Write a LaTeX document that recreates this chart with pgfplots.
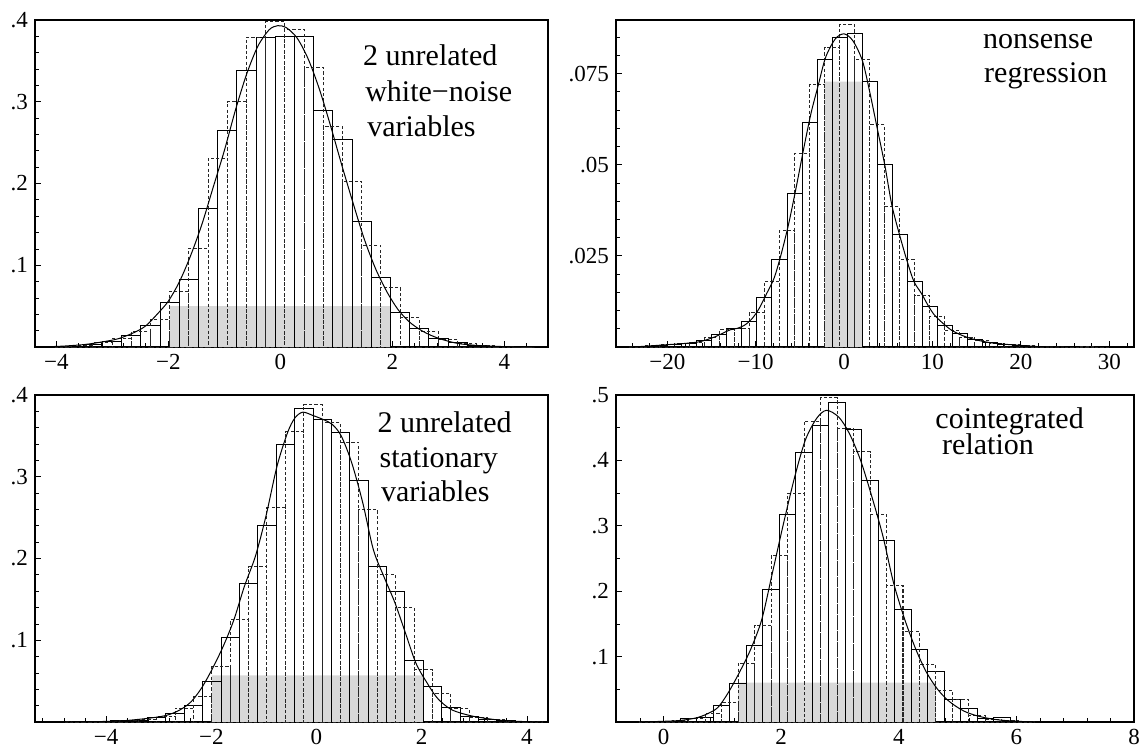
\documentclass[border=0pt]{standalone}
\usepackage{fontspec}
\setmainfont{Liberation Serif}
\usepackage{pgfplots}
\usepackage{pgfplotstable}
\pgfplotsset{compat=1.18}
\definecolor{critgrey}{RGB}{216,216,216}

% ---- top left: white noise ----
\pgfplotstableread{
x h
-4.031 0.001
-3.688 0.002
-3.345 0.005
-3.002 0.010
-2.660 0.019
-2.317 0.034
-1.974 0.068
-1.631 0.121
-1.288 0.231
-0.946 0.300
-0.603 0.379
-0.260 0.398
0.083 0.389
0.425 0.342
0.768 0.270
1.111 0.203
1.454 0.124
1.797 0.073
2.140 0.036
2.482 0.019
2.825 0.009
3.168 0.004
3.511 0.002
3.854 0.001
4.196 0.000
4.539 0.000
}\wnD
\pgfplotstableread{
x h
-3.860 0.001
-3.517 0.003
-3.174 0.007
-2.831 0.014
-2.489 0.026
-2.146 0.055
-1.803 0.083
-1.460 0.170
-1.117 0.265
-0.775 0.338
-0.432 0.379
-0.089 0.380
0.254 0.380
0.597 0.289
0.940 0.254
1.283 0.154
1.625 0.085
1.968 0.042
2.311 0.023
2.654 0.010
2.996 0.005
3.339 0.002
3.682 0.001
4.025 0.001
4.368 0.000
}\wnS
\pgfplotstableread{
x y
-4.3 0.000
-3.9 0.001
-3.5 0.003
-3.2 0.006
-2.9 0.010
-2.6 0.018
-2.4 0.026
-2.2 0.040
-2.0 0.056
-1.8 0.080
-1.6 0.112
-1.4 0.150
-1.2 0.195
-1.0 0.240
-0.8 0.290
-0.6 0.334
-0.4 0.368
-0.2 0.388
-0.05 0.393
0.1 0.391
0.3 0.378
0.5 0.352
0.7 0.315
0.9 0.270
1.1 0.222
1.3 0.176
1.5 0.132
1.7 0.096
1.9 0.068
2.1 0.046
2.3 0.031
2.5 0.021
2.7 0.014
2.9 0.009
3.2 0.004
3.6 0.0015
4.0 0.0005
4.3 0.000
}\wnC

% ---- top right: nonsense regression ----
\pgfplotstableread{
x h
-24.31 0.0001
-22.61 0.0003
-20.91 0.0006
-19.21 0.0009
-17.51 0.0013
-15.81 0.0025
-14.11 0.0048
-12.41 0.0052
-10.71 0.0095
-9.01 0.0180
-7.31 0.0320
-5.61 0.0530
-3.91 0.0720
-2.21 0.0822
-0.51 0.0884
1.19 0.0790
2.89 0.0610
4.59 0.0385
6.29 0.0240
7.99 0.0140
9.69 0.0085
11.39 0.0046
13.09 0.0027
14.79 0.0017
16.49 0.0010
18.19 0.0006
19.89 0.0004
21.59 0.0001
23.29 0.0001
24.99 0.0000
26.69 0.0001
28.39 0.0000
30.09 0.0000
}\nsD
\pgfplotstableread{
x h
-23.46 0.0002
-21.76 0.0004
-20.06 0.0008
-18.36 0.0010
-16.66 0.0018
-14.96 0.0035
-13.26 0.0050
-11.56 0.0070
-9.86 0.0135
-8.16 0.0240
-6.46 0.0420
-4.76 0.0615
-3.06 0.0790
-1.36 0.0850
0.34 0.0860
2.04 0.0728
3.74 0.0500
5.44 0.0310
7.14 0.0180
8.84 0.0110
10.54 0.0058
12.24 0.0037
13.94 0.0020
15.64 0.0012
17.34 0.0008
19.04 0.0005
20.74 0.0002
22.44 0.0001
24.14 0.0000
25.84 0.0000
}\nsS
\pgfplotstableread{
x y
-25.5 0.0000
-23.3 0.0001
-20.8 0.0005
-17.9 0.0010
-16.25 0.0015
-14.6 0.0028
-12.9 0.0047
-12.1 0.0051
-11.25 0.0060
-10.4 0.0078
-9.6 0.0106
-8.75 0.0147
-7.9 0.0190
-7.1 0.0256
-6.25 0.0340
-5.4 0.0440
-4.6 0.0540
-3.75 0.0640
-2.9 0.0720
-2.08 0.0795
-1.0 0.0845
0.0 0.0859
1.0 0.0840
2.08 0.0785
2.9 0.0700
3.75 0.0600
4.6 0.0500
5.4 0.0390
6.25 0.0310
7.1 0.0238
7.9 0.0180
8.75 0.0147
9.6 0.0110
10.4 0.0083
12.1 0.0047
13.75 0.0028
15.4 0.0017
17.1 0.0010
19.6 0.0005
22.1 0.0001
25.0 0.0000
}\nsC

% ---- bottom left: stationary ----
\pgfplotstableread{
x h
-4.787 0.0003
-4.437 0.0008
-4.088 0.001
-3.738 0.002
-3.388 0.0035
-3.039 0.007
-2.689 0.017
-2.340 0.031
-1.990 0.068
-1.640 0.125
-1.291 0.190
-0.941 0.262
-0.592 0.355
-0.242 0.388
0.108 0.366
0.457 0.342
0.807 0.260
1.156 0.180
1.506 0.140
1.856 0.064
2.205 0.035
2.555 0.016
2.904 0.006
3.254 0.003
3.604 0.001
3.953 0.0005
4.303 0.000
}\stD
\pgfplotstableread{
x h
-4.612 0.0004
-4.262 0.001
-3.913 0.0015
-3.563 0.0025
-3.214 0.005
-2.864 0.011
-2.514 0.020
-2.165 0.050
-1.815 0.103
-1.466 0.170
-1.116 0.240
-0.766 0.340
-0.417 0.384
-0.067 0.370
0.282 0.354
0.632 0.295
0.982 0.190
1.331 0.160
1.681 0.075
2.030 0.043
2.380 0.018
2.729 0.007
3.079 0.0035
3.429 0.0015
3.778 0.001
4.128 0.000
}\stS
\pgfplotstableread{
x y
-4.9 0.0002
-4.49 0.0004
-3.81 0.001
-3.27 0.004
-2.86 0.008
-2.59 0.015
-2.38 0.025
-2.18 0.042
-1.98 0.065
-1.77 0.093
-1.57 0.125
-1.37 0.166
-1.16 0.203
-0.96 0.252
-0.75 0.313
-0.55 0.354
-0.41 0.372
-0.26 0.379
-0.07 0.375
0.13 0.370
0.30 0.364
0.47 0.350
0.67 0.317
0.88 0.268
1.08 0.211
1.28 0.178
1.49 0.146
1.69 0.109
1.89 0.072
2.10 0.048
2.30 0.029
2.57 0.015
2.98 0.007
3.52 0.002
4.0 0.0004
4.3 0.0001
}\stC

% ---- bottom right: cointegrated ----
\pgfplotstableread{
x h
-0.415 0.0005
-0.135 0.001
0.145 0.002
0.426 0.005
0.706 0.013
0.987 0.030
1.267 0.090
1.547 0.148
1.828 0.255
2.108 0.350
2.389 0.460
2.669 0.496
2.949 0.449
3.230 0.413
3.510 0.318
3.791 0.208
4.071 0.139
4.351 0.088
4.632 0.048
4.912 0.034
5.193 0.010
5.473 0.004
5.753 0.002
6.034 0.001
6.314 0.000
}\ciD
\pgfplotstableread{
x h
-0.275 0.0005
0.005 0.001
0.286 0.006
0.566 0.007
0.846 0.026
1.127 0.059
1.407 0.117
1.687 0.203
1.968 0.317
2.248 0.412
2.529 0.454
2.809 0.488
3.089 0.447
3.370 0.370
3.650 0.278
3.931 0.172
4.211 0.111
4.491 0.077
4.772 0.035
5.052 0.020
5.333 0.006
5.613 0.007
5.893 0.001
6.174 0.000
}\ciS
\pgfplotstableread{
x y
-0.39 0.000
0.23 0.002
0.54 0.006
0.73 0.012
0.92 0.022
1.10 0.045
1.29 0.076
1.48 0.111
1.67 0.157
1.85 0.228
2.04 0.304
2.23 0.375
2.41 0.431
2.60 0.464
2.77 0.4766
2.98 0.466
3.16 0.441
3.35 0.400
3.54 0.345
3.73 0.284
3.91 0.213
4.10 0.157
4.29 0.111
4.47 0.076
4.66 0.050
4.85 0.032
5.10 0.017
5.35 0.009
5.66 0.0036
6.03 0.001
6.47 0.000
}\ciC

\pgfplotsset{
  histo/.style={
    scale only axis, width=256.5pt, height=163.5pt,
    anchor=south west,
    axis line style={line width=0.65pt},
    tick align=inside, tick pos=left,
    major tick length=3pt, minor tick length=2pt,
    tick style={black, line width=0.4pt},
    tick label style={font=\fontsize{11.5}{13}\selectfont},
    scaled y ticks=false, scaled x ticks=false,
    ymin=0,
  },
  solidbars/.style={ybar interval, draw=black, fill=none, line width=0.45pt},
  dashbars/.style={ybar interval, draw=black!85, fill=none, line width=0.5pt,
    dash pattern=on 1.6pt off 1.1pt},
  density/.style={black, line width=0.5pt, smooth, no markers},
  shade/.style={fill=critgrey, draw=none},
}
\tikzset{note/.style={anchor=base west, font=\fontsize{15}{17}\selectfont, inner sep=0pt}}

\begin{document}
\begin{tikzpicture}
\useasboundingbox (0,0) rectangle (571pt,375.5pt);

\begin{axis}[histo, at={(17.5pt,202pt)},
  xmin=-4.38, xmax=4.78, ymax=0.4,
  xtick={-4,-2,0,2,4}, xticklabels={−4,−2,0,2,4},
  minor xtick={-4,-3.6,...,4.8},
  ytick={0.1,0.2,0.3,0.4}, yticklabels={.1,.2,.3,.4},
  minor ytick={0.02,0.04,...,0.4}]
\addplot[shade] coordinates {(-1.97,0) (-1.97,0.05) (1.97,0.05) (1.97,0)} \closedcycle;
\addplot[solidbars] table[x=x,y=h] {\wnS};
\addplot[dashbars] table[x=x,y=h] {\wnD};
\addplot[density] table[x=x,y=y] {\wnC};
\node[note] at (rel axis cs:0.639,0.862) {2 unrelated};
\node[note] at (rel axis cs:0.643,0.751) {white−noise};
\node[note] at (rel axis cs:0.647,0.645) {variables};
\end{axis}

\begin{axis}[histo, width=259pt, at={(308pt,202pt)},
  xmin=-25.8, xmax=32.8, ymax=0.0897,
  xtick={-20,-10,0,10,20,30}, xticklabels={−20,−10,0,10,20,30},
  minor xtick={-24,-22,...,32},
  ytick={0.025,0.05,0.075}, yticklabels={.025,.05,.075},
  minor ytick={0.005,0.01,...,0.09}]
\addplot[shade] coordinates {(-2.2,0) (-2.2,0.0728) (2.1,0.0728) (2.1,0)} \closedcycle;
\addplot[solidbars] table[x=x,y=h] {\nsS};
\addplot[dashbars] table[x=x,y=h] {\nsD};
\addplot[density] table[x=x,y=y] {\nsC};
\node[note] at (rel axis cs:0.708,0.914) {nonsense};
\node[note] at (rel axis cs:0.710,0.810) {regression};
\end{axis}

\begin{axis}[histo, at={(17.5pt,14.5pt)},
  xmin=-5.35, xmax=4.4, ymax=0.4,
  xtick={-4,-2,0,2,4}, xticklabels={−4,−2,0,2,4},
  minor xtick={-5.2,-4.8,...,4.4},
  ytick={0.1,0.2,0.3,0.4}, yticklabels={.1,.2,.3,.4},
  minor ytick={0.02,0.04,...,0.4}]
\addplot[shade] coordinates {(-1.99,0) (-1.99,0.057) (2.03,0.057) (2.03,0)} \closedcycle;
\addplot[solidbars] table[x=x,y=h] {\stS};
\addplot[dashbars] table[x=x,y=h] {\stD};
\addplot[density] table[x=x,y=y] {\stC};
\node[note] at (rel axis cs:0.667,0.884) {2 unrelated};
\node[note] at (rel axis cs:0.671,0.777) {stationary};
\node[note] at (rel axis cs:0.674,0.673) {variables};
\end{axis}

\begin{axis}[histo, width=259pt, at={(308pt,14.5pt)},
  xmin=-0.81, xmax=8.0, ymax=0.5,
  xtick={0,2,4,6,8}, xticklabels={0,2,4,6,8},
  minor xtick={-0.8,-0.4,...,8},
  ytick={0.1,0.2,0.3,0.4,0.5}, yticklabels={.1,.2,.3,.4,.5},
  minor ytick={0.05,0.1,...,0.5}]
\addplot[shade] coordinates {(1.267,0) (1.267,0.0604) (4.63,0.0604) (4.63,0)} \closedcycle;
\addplot[solidbars] table[x=x,y=h] {\ciS};
\addplot[dashbars] table[x=x,y=h] {\ciD};
\addplot[density] table[x=x,y=y] {\ciC};
\node[note] at (rel axis cs:0.616,0.899) {cointegrated};
\node[note] at (rel axis cs:0.629,0.817) {relation};
\end{axis}
\end{tikzpicture}
\end{document}
